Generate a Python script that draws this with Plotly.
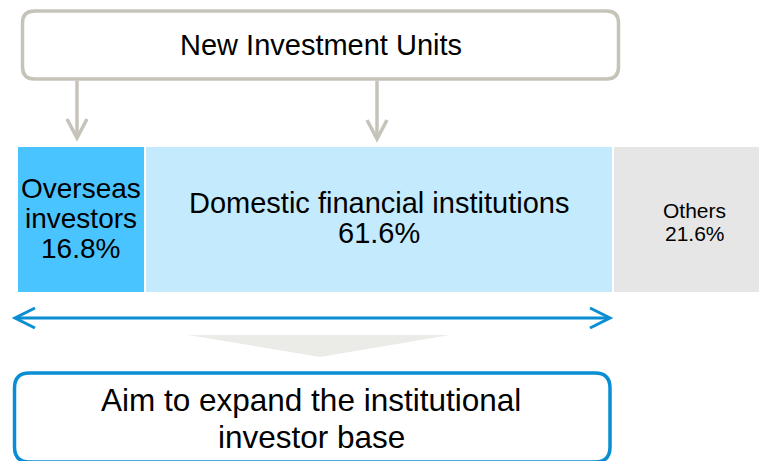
import plotly.graph_objects as go

# ---- data ----
categories = ["Overseas investors", "Domestic financial institutions", "Others"]
values = [16.8, 61.6, 21.6]
label_lines = [["Overseas", "investors"], ["Domestic financial institutions"], ["Others"]]
colors = ["#4AC4FF", "#C4EAFD", "#E6E6E6"]
top_title = "New Investment Units"
bottom_lines = ["Aim to expand the institutional", "investor base"]

W, H = 759, 461
PX_PER_UNIT = 7.6
X0_PX = 17

def X(px):
    return px / W

def Y(py):
    return 1 - py / H

fig = go.Figure()
for cat, v, c in zip(categories, values, colors):
    fig.add_trace(go.Bar(
        y=[0], x=[v], name=cat, orientation="h", width=1.02,
        marker=dict(color=c, line=dict(color="white", width=2.5)),
        textposition="none", hoverinfo="name+x", showlegend=False,
    ))

annotations = []
# bar labels (one annotation per line)
label_fs = [28, 29, 21]
label_ls = [30, 30, 23]
label_c0 = [188.5, 203, 210]
cum = 0
for i, v in enumerate(values):
    mid = cum + v / 2
    cum += v
    lines = label_lines[i] + [f"{v:.1f}%"]
    for j, t in enumerate(lines):
        annotations.append(dict(
            x=mid, xref="x", y=Y(label_c0[i] + j * label_ls[i]), yref="paper",
            text=t, showarrow=False, xanchor="center", yanchor="middle",
            font=dict(family="Liberation Sans, Arial, sans-serif", size=label_fs[i], color="black"),
        ))

annotations.append(dict(
    x=X(320.5), y=Y(45), xref="paper", yref="paper", text=top_title, showarrow=False,
    xanchor="center", yanchor="middle",
    font=dict(family="Liberation Sans, Arial, sans-serif", size=29, color="black"),
))
for j, t in enumerate(bottom_lines):
    annotations.append(dict(
        x=X(311), y=Y(400 + j * 36.8), xref="paper", yref="paper", text=t, showarrow=False,
        xanchor="center", yanchor="middle",
        font=dict(family="Liberation Sans, Arial, sans-serif", size=31.5, color="black"),
    ))

def rrect(x0, y0, x1, y1, r):
    return (f"M{X(x0+r)},{Y(y0)} L{X(x1-r)},{Y(y0)} Q{X(x1)},{Y(y0)} {X(x1)},{Y(y0+r)} "
            f"L{X(x1)},{Y(y1-r)} Q{X(x1)},{Y(y1)} {X(x1-r)},{Y(y1)} "
            f"L{X(x0+r)},{Y(y1)} Q{X(x0)},{Y(y1)} {X(x0)},{Y(y1-r)} "
            f"L{X(x0)},{Y(y0+r)} Q{X(x0)},{Y(y0)} {X(x0+r)},{Y(y0)} Z")

def poly(pts, close=False):
    s = "M" + " L".join(f"{X(a)},{Y(b)}" for a, b in pts)
    return s + (" Z" if close else "")

gray = "#C6C3B9"
blue = "#0A8ED3"
shapes = [
    dict(type="path", xref="paper", yref="paper", path=rrect(22.5, 11, 618.5, 79, 12),
         line=dict(color=gray, width=3.5), fillcolor="white"),
    dict(type="path", xref="paper", yref="paper", path=poly([(77, 80.5), (77, 137)]),
         line=dict(color=gray, width=3.5)),
    dict(type="path", xref="paper", yref="paper", path=poly([(67, 119), (77, 138), (87, 119)]),
         line=dict(color=gray, width=3.5)),
    dict(type="path", xref="paper", yref="paper", path=poly([(377, 80.5), (377, 138)]),
         line=dict(color=gray, width=3.5)),
    dict(type="path", xref="paper", yref="paper", path=poly([(367, 120), (377, 139), (387, 120)]),
         line=dict(color=gray, width=3.5)),
    dict(type="path", xref="paper", yref="paper", path=poly([(17, 318), (608, 318)]),
         line=dict(color=blue, width=3)),
    dict(type="path", xref="paper", yref="paper", path=poly([(35, 308), (15, 318), (35, 328)]),
         line=dict(color=blue, width=3)),
    dict(type="path", xref="paper", yref="paper", path=poly([(590, 308), (610, 318), (590, 328)]),
         line=dict(color=blue, width=3)),
    dict(type="path", xref="paper", yref="paper", path=poly([(188, 335), (450, 335), (320, 357)], close=True),
         line=dict(width=0), fillcolor="#EBEBE7"),
    dict(type="path", xref="paper", yref="paper", path=rrect(14.5, 373, 610, 462, 15),
         line=dict(color=blue, width=3.5), fillcolor="white"),
]

# axis ranges: bar value 0 at pixel 17, bar spanning pixels 147..292
xr = [-X0_PX / PX_PER_UNIT, (W - X0_PX) / PX_PER_UNIT]
ppu_y = 145.0
yr = [-0.5 - (H - 292) / ppu_y, 0.5 + 147 / ppu_y]

fig.update_layout(
    width=W, height=H, barmode="stack",
    margin=dict(l=0, r=0, t=0, b=0, pad=0),
    paper_bgcolor="white", plot_bgcolor="white",
    xaxis=dict(range=xr, visible=False, fixedrange=True),
    yaxis=dict(range=yr, visible=False, fixedrange=True),
    annotations=annotations, shapes=shapes, bargap=0,
)

fig.write_html("out.html", config={"displayModeBar": False},
               post_script="document.body.style.margin='0';document.body.style.overflow='hidden';")
